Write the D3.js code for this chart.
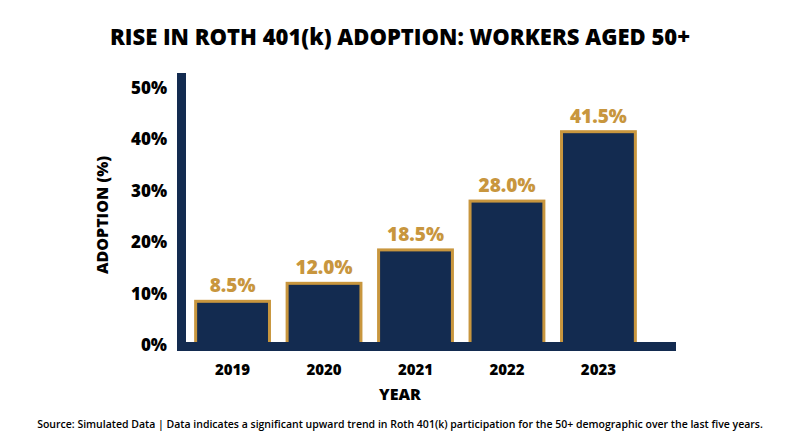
<!DOCTYPE html><html><head><meta charset="utf-8">
<script src="https://cdn.jsdelivr.net/npm/d3@7"></script>
<style>body{margin:0;background:#fff}text{font-family:"Open Sans",sans-serif;font-weight:800}</style></head><body>
<svg id="c" width="800" height="447"></svg>
<script>
const years=["2019","2020","2021","2022","2023"];
const adoption=[8.5,12.0,18.5,28.0,41.5];
const yTicks=[0,10,20,30,40,50];
const navy="#132b50",gold="#c8963e";
const svg=d3.select("#c");
const x=d3.scaleBand().domain(years).range([185,646]).paddingInner(0.16).paddingOuter(0.1);
const y=d3.scaleLinear().domain([0,50]).range([345,88]);
svg.append("text").attr("x",400).attr("y",45).attr("text-anchor","middle").attr("font-size",22).attr("fill","#000").text("RISE IN ROTH 401(k) ADOPTION: WORKERS AGED 50+");
svg.selectAll("rect.b").data(adoption).join("rect").attr("class","b")
 .attr("x",(d,i)=>x(years[i])+1.5).attr("width",x.bandwidth()-3)
 .attr("y",d=>y(d)).attr("height",d=>y(0)-y(d)+3)
 .attr("fill",navy).attr("stroke",gold).attr("stroke-width",3);
svg.append("rect").attr("x",177).attr("y",342).attr("width",499).attr("height",9).attr("fill",navy);
svg.append("rect").attr("x",177).attr("y",73).attr("width",9).attr("height",278).attr("fill",navy);
svg.selectAll("text.v").data(adoption).join("text").attr("class","v")
 .attr("x",(d,i)=>x(years[i])+x.bandwidth()/2).attr("y",d=>y(d)-9).attr("text-anchor","middle")
 .attr("font-size",19).attr("fill",gold).text(d=>d.toFixed(1)+"%");
const ya=svg.append("g").attr("transform","translate(170,0)").call(d3.axisLeft(y).tickValues(yTicks).tickSize(0).tickFormat(d=>d+"%"));
ya.select(".domain").remove();
ya.selectAll("text").attr("font-size",17).attr("fill","#000").style("font-family","Open Sans").style("font-weight",800);
const xa=svg.append("g").attr("transform","translate(0,358)").call(d3.axisBottom(x).tickSize(0));
xa.select(".domain").remove();
xa.selectAll("text").attr("font-size",15).attr("fill","#000").attr("dy","0.9em").style("font-family","Open Sans").style("font-weight",800);
svg.append("text").attr("x",400).attr("y",400).attr("text-anchor","middle").attr("font-size",16).text("YEAR");
svg.append("text").attr("transform","translate(108,215) rotate(-90)").attr("text-anchor","middle").attr("font-size",16).text("ADOPTION (%)");
svg.append("text").attr("x",400).attr("y",428).attr("text-anchor","middle").attr("font-size",10.5).style("font-weight",600).text("Source: Simulated Data | Data indicates a significant upward trend in Roth 401(k) participation for the 50+ demographic over the last five years.");
</script></body></html>
